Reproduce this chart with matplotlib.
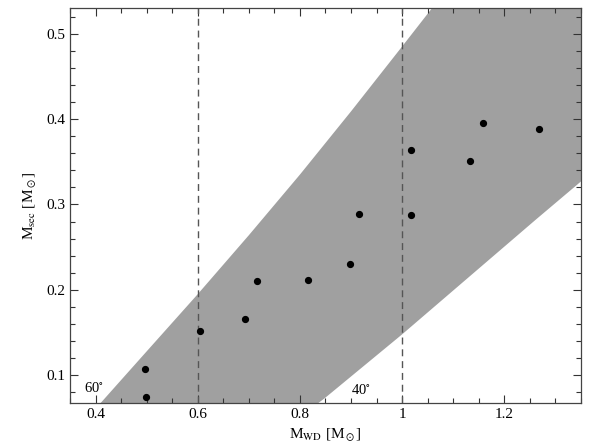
import numpy as np
import matplotlib.pyplot as plt
from matplotlib.ticker import MultipleLocator

plt.rcParams['font.family'] = ['Liberation Serif', 'DejaVu Serif']
plt.rcParams['mathtext.fontset'] = 'stix'

# observed systems: white dwarf mass vs secondary mass
m_wd = [0.497, 0.499, 0.605, 0.692, 0.716, 0.816, 0.898, 0.916,
        1.018, 1.018, 1.133, 1.158, 1.267]
m_sec = [0.107, 0.075, 0.152, 0.166, 0.210, 0.212, 0.230, 0.289,
         0.288, 0.364, 0.351, 0.395, 0.388]

# boundaries of the allowed region (60 deg upper, 40 deg lower)
upper_x = [0.399, 0.410, 0.500, 0.600, 0.700, 0.800, 0.900, 1.000, 1.060, 1.100]
upper_y = [0.060, 0.0676, 0.128, 0.195, 0.264, 0.335, 0.409, 0.485, 0.531, 0.562]
lower_x = [0.830, 0.836, 0.848, 1.000, 1.261, 1.350, 1.800]
lower_y = [0.062, 0.0676, 0.073, 0.148, 0.282, 0.327, 0.560]

vlines = [0.6, 1.0]

fig = plt.figure(figsize=(5.98, 4.47), dpi=100)
ax = fig.add_axes([0.117, 0.0984, 0.8546, 0.8837])

poly_x = upper_x + lower_x[::-1]
poly_y = upper_y + lower_y[::-1]
ax.fill(poly_x, poly_y, color='#a0a0a0', lw=0, zorder=1)

for xv in vlines:
    ax.axvline(xv, color='#555555', lw=1.0, ls=(0, (5, 3.5)), zorder=2)

ax.plot(m_wd, m_sec, 'o', color='black', ms=4.2, zorder=3)

ax.text(0.397, 0.0852, '60$^{\\circ}$', fontsize=10.5, ha='center', va='center')
ax.text(0.919, 0.083, '40$^{\\circ}$', fontsize=10.5, ha='center', va='center')

ax.set_xlim(0.35, 1.35)
ax.set_ylim(0.0676, 0.53)
ax.xaxis.set_major_locator(MultipleLocator(0.2))
ax.xaxis.set_minor_locator(MultipleLocator(0.05))
ax.yaxis.set_major_locator(MultipleLocator(0.1))
ax.yaxis.set_minor_locator(MultipleLocator(0.02))
ax.set_xticks([0.4, 0.6, 0.8, 1.0, 1.2])
ax.set_xticklabels(['0.4', '0.6', '0.8', '1', '1.2'])

ax.tick_params(which='both', direction='in', top=True, right=True,
               colors='#333333', labelcolor='black', labelsize=11)
ax.tick_params(which='major', length=6, width=0.8)
ax.tick_params(which='minor', length=3.5, width=0.8)
for s in ax.spines.values():
    s.set_color('#444444')
    s.set_linewidth(0.9)

ax.set_xlabel(r'M$_{\rm WD}$ [M$_\odot$]', fontsize=11, labelpad=4)
ax.set_ylabel(r'M$_{\rm sec}$ [M$_\odot$]', fontsize=11, labelpad=6)

fig.savefig('out.png', dpi=100)
